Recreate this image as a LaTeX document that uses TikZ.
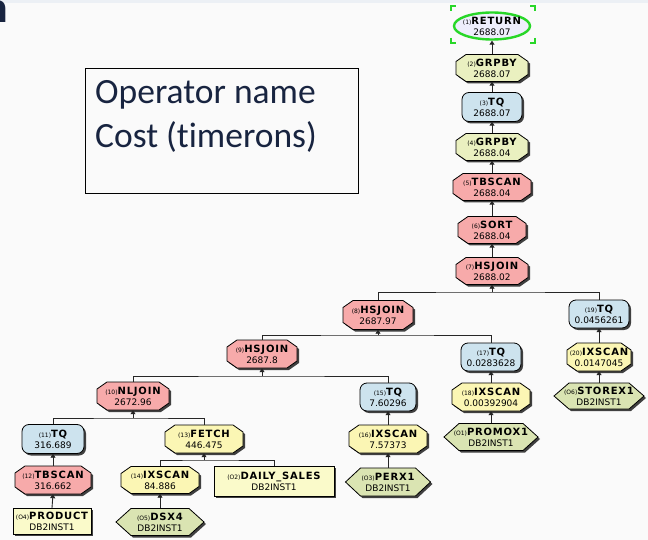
\documentclass[tikz,border=0pt]{standalone}
\usepackage{fontspec}
\setmainfont[Ligatures=NoCommon]{Carlito}
\newfontfamily\opname[LetterSpace=8]{DejaVu Sans}
\newfontfamily\opnum{DejaVu Sans}
\usetikzlibrary{arrows.meta,shapes.geometric}

\definecolor{bg}{RGB}{250,250,250}
\definecolor{topband}{RGB}{236,240,245}
\definecolor{opred}{RGB}{247,170,170}
\definecolor{opblue}{RGB}{205,227,238}
\definecolor{opyellow}{RGB}{251,246,180}
\definecolor{opgrpby}{RGB}{234,240,192}
\definecolor{optable}{RGB}{250,250,202}
\definecolor{opindex}{RGB}{218,228,178}
\definecolor{retfill}{RGB}{238,238,252}
\definecolor{selgreen}{RGB}{40,215,40}
\definecolor{slideink}{RGB}{24,36,64}

\tikzset{
  outline/.style={draw=black,line width=0.8pt},
  shadowpart/.style={fill=black!75},
  optext/.style={inner sep=0pt,align=center,text=black,font=\fontsize{9}{11}\selectfont},
  link/.style={draw=black!85,line width=0.9pt},
  flow/.style={link,-{Triangle[length=4pt,width=5pt]}},
  legendtext/.style={inner sep=0pt,text=slideink,font=\fontsize{35.5}{44}\selectfont},
}

% label: small tag, bold operator name, cost line
\newcommand\oplbl[3]{{\opnum\fontsize{6}{6}\selectfont(#1)}{\opname\bfseries\fontsize{10}{11}\selectfont #2}\\{\opnum\fontsize{9}{11}\selectfont #3}}

\def\cx{10}\def\cy{7}\def\hx{15}

% octagon operator: name, x, y, width, height, fill, text
\newcommand\octnode[7]{%
  \pgfmathsetmacro\hw{#4/2}\pgfmathsetmacro\hh{#5/2}%
  \fill[shadowpart,shift={({#2+2},{#3+2})}] ({-\hw+\cx},{-\hh}) -- ({\hw-\cx},{-\hh}) -- ({\hw},{-\hh+\cy}) -- ({\hw},{\hh-\cy}) -- ({\hw-\cx},{\hh}) -- ({-\hw+\cx},{\hh}) -- ({-\hw},{\hh-\cy}) -- ({-\hw},{-\hh+\cy}) -- cycle;
  \filldraw[outline,fill=#6,shift={(#2,#3)}] ({-\hw+\cx},{-\hh}) -- ({\hw-\cx},{-\hh}) -- ({\hw},{-\hh+\cy}) -- ({\hw},{\hh-\cy}) -- ({\hw-\cx},{\hh}) -- ({-\hw+\cx},{\hh}) -- ({-\hw},{\hh-\cy}) -- ({-\hw},{-\hh+\cy}) -- cycle;
  \node[optext,minimum width=#4pt,minimum height=#5pt] (#1) at (#2,#3) {#7};
}
% hexagon (index object)
\newcommand\hexnode[7]{%
  \pgfmathsetmacro\hw{#4/2}\pgfmathsetmacro\hh{#5/2}%
  \fill[shadowpart,shift={({#2+2},{#3+2})}] ({-\hw},0) -- ({-\hw+\hx},{-\hh}) -- ({\hw-\hx},{-\hh}) -- ({\hw},0) -- ({\hw-\hx},{\hh}) -- ({-\hw+\hx},{\hh}) -- cycle;
  \filldraw[outline,fill=#6,shift={(#2,#3)}] ({-\hw},0) -- ({-\hw+\hx},{-\hh}) -- ({\hw-\hx},{-\hh}) -- ({\hw},0) -- ({\hw-\hx},{\hh}) -- ({-\hw+\hx},{\hh}) -- cycle;
  \node[optext,minimum width=#4pt,minimum height=#5pt] (#1) at (#2,#3) {#7};
}
% rounded box (table queue)
\newcommand\rndnode[7]{%
  \pgfmathsetmacro\hw{#4/2}\pgfmathsetmacro\hh{#5/2}%
  \fill[shadowpart,rounded corners=7pt,shift={({#2+2},{#3+2})}] ({-\hw},{-\hh}) rectangle ({\hw},{\hh});
  \filldraw[outline,fill=#6,rounded corners=7pt,shift={(#2,#3)}] ({-\hw},{-\hh}) rectangle ({\hw},{\hh});
  \node[optext,minimum width=#4pt,minimum height=#5pt] (#1) at (#2,#3) {#7};
}
% plain box (table object)
\newcommand\rectnode[7]{%
  \pgfmathsetmacro\hw{#4/2}\pgfmathsetmacro\hh{#5/2}%
  \fill[shadowpart,shift={({#2+2},{#3+2})}] ({-\hw},{-\hh}) rectangle ({\hw},{\hh});
  \filldraw[outline,fill=#6,shift={(#2,#3)}] ({-\hw},{-\hh}) rectangle ({\hw},{\hh});
  \node[optext,minimum width=#4pt,minimum height=#5pt] (#1) at (#2,#3) {#7};
}

\begin{document}
\begin{tikzpicture}[x=1pt,y=-1pt]
\useasboundingbox (0,0) rectangle (648,540);
\fill[bg] (0,0) rectangle (648,540);
\fill[topband] (0,0) rectangle (648,3);

% clipped title fragment at the top left
\begin{scope}
  \clip (0,0) rectangle (648,540);
  \node[anchor=base east,inner sep=0pt,text=slideink,font=\bfseries\fontsize{44}{44}\selectfont] (titlefrag) at (8.5,23) {n};
\end{scope}

% legend box
\node[draw=black,line width=0.9pt,minimum width=273pt,minimum height=125pt,inner sep=0pt] (legend) at (221.5,130.5) {};
\node[legendtext,anchor=base west] (legend1) at (95,104) {Operator name};
\node[legendtext,anchor=base west] (legend2) at (95,148) {Cost (timerons)};

% RETURN with selection marks
\node[ellipse,draw=selgreen,line width=2.4pt,fill=retfill,minimum width=76pt,minimum height=27pt,inner sep=0pt] (n1) at (492,26) {};
\node[optext] (n1text) at (n1) {\oplbl{1}{RETURN}{2688.07}};
\foreach \px/\py/\sx/\sy in {451/6/1/1, 535/6/-1/1, 451/43/1/-1, 535/43/-1/-1}
  \draw[selgreen,line width=2pt] (\px,{\py+\sy*5}) -- (\px,\py) -- ({\px+\sx*5},\py);

% operators
\octnode{n2}{492}{68}{72}{27}{opgrpby}{\oplbl{2}{GRPBY}{2688.07}}
\rndnode{n3}{492}{107}{60}{29}{opblue}{\oplbl{3}{TQ}{2688.07}}
\octnode{n4}{492}{147}{72}{27}{opgrpby}{\oplbl{4}{GRPBY}{2688.04}}
\octnode{n5}{492}{187}{78}{27}{opred}{\oplbl{5}{TBSCAN}{2688.04}}
\octnode{n6}{492}{230}{68}{27}{opred}{\oplbl{6}{SORT}{2688.04}}
\octnode{n7}{492}{271}{72}{27}{opred}{\oplbl{7}{HSJOIN}{2688.02}}
\octnode{n8}{378}{315}{70}{29}{opred}{\oplbl{8}{HSJOIN}{2687.97}}
\rndnode{n19}{599}{314}{60}{28}{opblue}{\oplbl{19}{TQ}{0.0456261}}
\octnode{n9}{262}{354}{70}{28}{opred}{\oplbl{9}{HSJOIN}{2687.8}}
\rndnode{n17}{491}{357}{60}{28}{opblue}{\oplbl{17}{TQ}{0.0283628}}
\octnode{n20}{599}{357}{64}{28}{opyellow}{\oplbl{20}{IXSCAN}{0.0147045}}
\hexnode{t6}{599}{396}{90}{26}{opindex}{\oplbl{O6}{STOREX1}{DB2INST1}}
\octnode{n10}{133}{396}{72}{28}{opred}{\oplbl{10}{NLJOIN}{2672.96}}
\rndnode{n15}{388}{397}{56}{28}{opblue}{\oplbl{15}{TQ}{7.60296}}
\octnode{n18}{491}{397}{78}{28}{opyellow}{\oplbl{18}{IXSCAN}{0.00392904}}
\rndnode{n11}{53}{439}{62}{29}{opblue}{\oplbl{11}{TQ}{316.689}}
\octnode{n13}{204}{439}{78}{28}{opyellow}{\oplbl{13}{FETCH}{446.475}}
\octnode{n16}{388}{439}{78}{28}{opyellow}{\oplbl{16}{IXSCAN}{7.57373}}
\hexnode{t1}{491}{437}{94}{27}{opindex}{\oplbl{O1}{PROMOX1}{DB2INST1}}
\octnode{n12}{53}{480}{76}{28}{opred}{\oplbl{12}{TBSCAN}{316.662}}
\octnode{n14}{160}{480}{78}{27}{opyellow}{\oplbl{14}{IXSCAN}{84.886}}
\rectnode{t2}{274}{481}{120}{30}{optable}{\oplbl{O2}{DAILY\_SALES}{DB2INST1}}
\hexnode{t3}{388}{482}{85}{28}{opindex}{\oplbl{O3}{PERX1}{DB2INST1}}
\rectnode{t4}{52}{521}{78}{26}{optable}{\oplbl{O4}{PRODUCT}{DB2INST1}}
\hexnode{t5}{160}{522}{88}{27}{opindex}{\oplbl{O5}{DSX4}{DB2INST1}}

% single-input edges
\foreach \c/\p in {n2/n1,n3/n2,n4/n3,n5/n4,n6/n5,n7/n6,n20/n19,t6/n20,n18/n17,t1/n18,n16/n15,t3/n16,n12/n11,t4/n12,t5/n14}
  \draw[flow] (\c.north) -- (\p.south);

% two-input edges through a junction
\coordinate (j7) at (n7.south |- 0,292);
\coordinate (j8) at (n8.south |- 0,335);
\coordinate (j9) at (n9.south |- 0,376);
\coordinate (j10) at (n10.south |- 0,418);
\coordinate (j13) at (n13.south |- 0,460);
\draw[link] (n8.north) |- (j7) -| (n19.north);
\draw[link] (n9.north) |- (j8) -| (n17.north);
\draw[link] (n10.north) |- (j9) -| (n15.north);
\draw[link] (n11.north) |- (j10) -| (n13.north);
\draw[link] (n14.north) |- (j13) -| (t2.north);
\foreach \j/\p in {j7/n7,j8/n8,j9/n9,j10/n10,j13/n13}
  \draw[flow] (\j) -- (\p.south);
\end{tikzpicture}
\end{document}
